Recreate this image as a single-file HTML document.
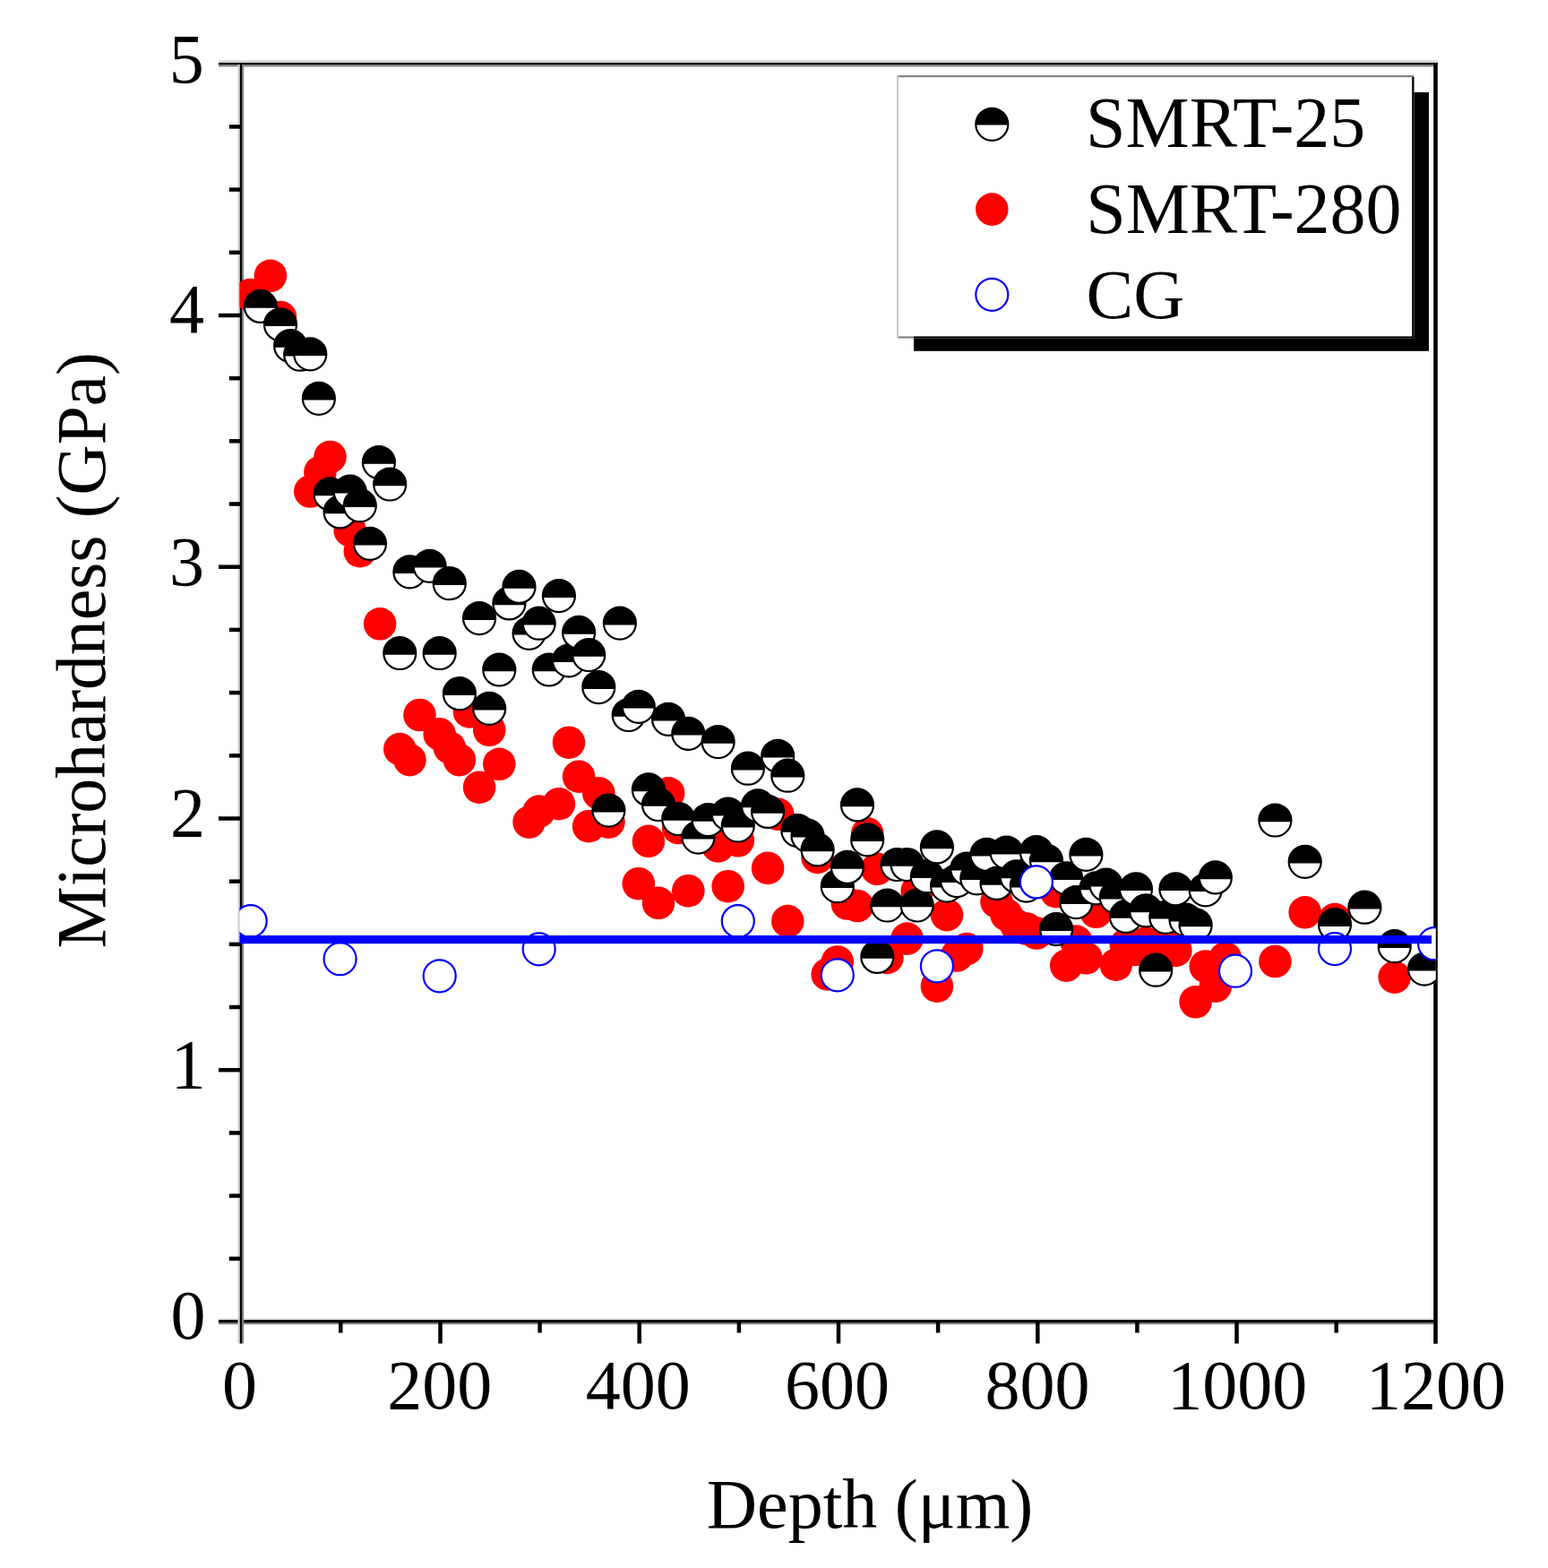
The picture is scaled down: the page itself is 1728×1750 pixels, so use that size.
<!DOCTYPE html>
<html lang="en"><head><meta charset="utf-8"><title>Microhardness vs Depth</title>
<style>html,body{margin:0;padding:0;background:#fff}body{width:1728px;height:1750px;overflow:hidden}svg{display:block}text{font-family:"Liberation Serif","DejaVu Serif",serif;fill:#000}</style></head><body>
<svg width="1728" height="1750" viewBox="0 0 1728 1750">
<rect width="1728" height="1750" fill="#fff"/>
<defs><clipPath id="pc"><rect x="267.4" y="60" width="1335.4" height="1420"/></clipPath></defs>
<g>
<rect x="244" y="67.3" width="1360.8" height="2.8" fill="#d6d6d6"/>
<rect x="244" y="72" width="1356.5" height="2.5" fill="#8a8a8a"/>
<rect x="244" y="70" width="1360.8" height="2.15" fill="#000"/>
<rect x="244" y="1471.1" width="1356.5" height="2.1" fill="#e2e2e2"/>
<rect x="244" y="1475.9" width="1356.5" height="2.1" fill="#787878"/>
<rect x="244" y="1473.1" width="1356.5" height="2.9" fill="#000"/>
<rect x="265.5" y="72" width="2.4" height="1427.5" fill="#d2d2d2"/>
<rect x="270" y="72" width="2.2" height="1427.5" fill="#8a8a8a"/>
<rect x="267.8" y="70" width="2.3" height="1429.5" fill="#000"/>
<rect x="1600.2" y="70" width="4.6" height="1429.7" fill="#000"/>
</g>
<g stroke="#000" stroke-width="4.5">
<line x1="255.8" y1="1404.8" x2="268" y2="1404.8"/>
<line x1="255.8" y1="1334.6" x2="268" y2="1334.6"/>
<line x1="255.8" y1="1264.4" x2="268" y2="1264.4"/>
<line x1="244" y1="1194.2" x2="268" y2="1194.2"/>
<line x1="255.8" y1="1124.0" x2="268" y2="1124.0"/>
<line x1="255.8" y1="1053.9" x2="268" y2="1053.9"/>
<line x1="255.8" y1="983.7" x2="268" y2="983.7"/>
<line x1="244" y1="913.5" x2="268" y2="913.5"/>
<line x1="255.8" y1="843.3" x2="268" y2="843.3"/>
<line x1="255.8" y1="773.1" x2="268" y2="773.1"/>
<line x1="255.8" y1="702.9" x2="268" y2="702.9"/>
<line x1="244" y1="632.7" x2="268" y2="632.7"/>
<line x1="255.8" y1="562.5" x2="268" y2="562.5"/>
<line x1="255.8" y1="492.3" x2="268" y2="492.3"/>
<line x1="255.8" y1="422.2" x2="268" y2="422.2"/>
<line x1="244" y1="352.0" x2="268" y2="352.0"/>
<line x1="255.8" y1="281.8" x2="268" y2="281.8"/>
<line x1="255.8" y1="211.6" x2="268" y2="211.6"/>
<line x1="255.8" y1="141.4" x2="268" y2="141.4"/>
<line x1="380.3" y1="1474" x2="380.3" y2="1487.5"/>
<line x1="491.5" y1="1474" x2="491.5" y2="1499.5"/>
<line x1="602.6" y1="1474" x2="602.6" y2="1487.5"/>
<line x1="713.7" y1="1474" x2="713.7" y2="1499.5"/>
<line x1="824.9" y1="1474" x2="824.9" y2="1487.5"/>
<line x1="936.0" y1="1474" x2="936.0" y2="1499.5"/>
<line x1="1047.1" y1="1474" x2="1047.1" y2="1487.5"/>
<line x1="1158.3" y1="1474" x2="1158.3" y2="1499.5"/>
<line x1="1269.4" y1="1474" x2="1269.4" y2="1487.5"/>
<line x1="1380.5" y1="1474" x2="1380.5" y2="1499.5"/>
<line x1="1491.7" y1="1474" x2="1491.7" y2="1487.5"/>
</g>
<g clip-path="url(#pc)">
<g fill="#f00">
<circle cx="279.7" cy="329.0" r="18.3"/>
<circle cx="301.9" cy="307.8" r="18.3"/>
<circle cx="313.0" cy="354.0" r="18.3"/>
<circle cx="346.3" cy="548.5" r="18.3"/>
<circle cx="357.4" cy="527.0" r="18.3"/>
<circle cx="368.5" cy="510.0" r="18.3"/>
<circle cx="390.7" cy="592.0" r="18.3"/>
<circle cx="401.8" cy="615.2" r="18.3"/>
<circle cx="424.1" cy="696.3" r="18.3"/>
<circle cx="446.3" cy="836.1" r="18.3"/>
<circle cx="457.4" cy="848.1" r="18.3"/>
<circle cx="468.5" cy="798.0" r="18.3"/>
<circle cx="490.7" cy="819.4" r="18.3"/>
<circle cx="501.8" cy="834.3" r="18.3"/>
<circle cx="512.9" cy="848.1" r="18.3"/>
<circle cx="524.0" cy="794.4" r="18.3"/>
<circle cx="535.1" cy="878.7" r="18.3"/>
<circle cx="546.2" cy="814.8" r="18.3"/>
<circle cx="557.3" cy="852.8" r="18.3"/>
<circle cx="590.6" cy="917.6" r="18.3"/>
<circle cx="601.7" cy="905.6" r="18.3"/>
<circle cx="623.9" cy="897.2" r="18.3"/>
<circle cx="635.0" cy="828.7" r="18.3"/>
<circle cx="646.1" cy="866.7" r="18.3"/>
<circle cx="657.2" cy="922.2" r="18.3"/>
<circle cx="668.3" cy="885.2" r="18.3"/>
<circle cx="679.4" cy="917.6" r="18.3"/>
<circle cx="712.8" cy="986.2" r="18.3"/>
<circle cx="723.9" cy="938.9" r="18.3"/>
<circle cx="735.0" cy="1007.8" r="18.3"/>
<circle cx="746.1" cy="885.3" r="18.3"/>
<circle cx="757.2" cy="924.0" r="18.3"/>
<circle cx="768.3" cy="994.2" r="18.3"/>
<circle cx="801.6" cy="944.4" r="18.3"/>
<circle cx="812.7" cy="989.2" r="18.3"/>
<circle cx="823.8" cy="938.3" r="18.3"/>
<circle cx="857.1" cy="968.9" r="18.3"/>
<circle cx="868.2" cy="908.7" r="18.3"/>
<circle cx="879.3" cy="1028.1" r="18.3"/>
<circle cx="912.6" cy="956.9" r="18.3"/>
<circle cx="923.7" cy="1087.4" r="18.3"/>
<circle cx="934.8" cy="1073.5" r="18.3"/>
<circle cx="945.9" cy="1008.5" r="18.3"/>
<circle cx="957.0" cy="1011.0" r="18.3"/>
<circle cx="968.2" cy="930.4" r="18.3"/>
<circle cx="979.3" cy="969.8" r="18.3"/>
<circle cx="990.4" cy="1068.9" r="18.3"/>
<circle cx="1012.6" cy="1047.6" r="18.3"/>
<circle cx="1023.7" cy="994.6" r="18.3"/>
<circle cx="1045.9" cy="1100.7" r="18.3"/>
<circle cx="1057.0" cy="1021.1" r="18.3"/>
<circle cx="1068.1" cy="1066.5" r="18.3"/>
<circle cx="1079.2" cy="1059.1" r="18.3"/>
<circle cx="1112.5" cy="1006.3" r="18.3"/>
<circle cx="1123.6" cy="1021.1" r="18.3"/>
<circle cx="1134.7" cy="1033.0" r="18.3"/>
<circle cx="1145.8" cy="1036.5" r="18.3"/>
<circle cx="1156.9" cy="1041.5" r="18.3"/>
<circle cx="1179.1" cy="995.2" r="18.3"/>
<circle cx="1190.2" cy="1077.6" r="18.3"/>
<circle cx="1201.3" cy="1050.6" r="18.3"/>
<circle cx="1212.4" cy="1069.3" r="18.3"/>
<circle cx="1223.5" cy="1017.8" r="18.3"/>
<circle cx="1245.8" cy="1076.7" r="18.3"/>
<circle cx="1256.9" cy="1054.4" r="18.3"/>
<circle cx="1268.0" cy="1060.0" r="18.3"/>
<circle cx="1279.1" cy="1052.6" r="18.3"/>
<circle cx="1290.2" cy="1056.3" r="18.3"/>
<circle cx="1301.3" cy="1052.6" r="18.3"/>
<circle cx="1312.4" cy="1060.9" r="18.3"/>
<circle cx="1334.6" cy="1118.3" r="18.3"/>
<circle cx="1345.7" cy="1078.5" r="18.3"/>
<circle cx="1356.8" cy="1100.7" r="18.3"/>
<circle cx="1367.9" cy="1069.3" r="18.3"/>
<circle cx="1423.4" cy="1073.0" r="18.3"/>
<circle cx="1456.7" cy="1018.3" r="18.3"/>
<circle cx="1490.0" cy="1026.1" r="18.3"/>
<circle cx="1556.7" cy="1090.6" r="18.3"/>
</g>
<g>
<circle cx="290.8" cy="341.9" r="18" fill="#fff" stroke="#000" stroke-width="2.2"/><path d="M272.8 343.7V341.9A18 18 0 0 1 308.8 341.9V343.7Z" fill="#000"/>
<circle cx="313.0" cy="362.3" r="18" fill="#fff" stroke="#000" stroke-width="2.2"/><path d="M295.0 364.1V362.3A18 18 0 0 1 331.0 362.3V364.1Z" fill="#000"/>
<circle cx="324.1" cy="386.0" r="18" fill="#fff" stroke="#000" stroke-width="2.2"/><path d="M306.1 387.8V386.0A18 18 0 0 1 342.1 386.0V387.8Z" fill="#000"/>
<circle cx="335.2" cy="395.7" r="18" fill="#fff" stroke="#000" stroke-width="2.2"/><path d="M317.2 397.5V395.7A18 18 0 0 1 353.2 395.7V397.5Z" fill="#000"/>
<circle cx="346.3" cy="395.3" r="18" fill="#fff" stroke="#000" stroke-width="2.2"/><path d="M328.3 397.1V395.3A18 18 0 0 1 364.3 395.3V397.1Z" fill="#000"/>
<circle cx="355.9" cy="444.8" r="18" fill="#fff" stroke="#000" stroke-width="2.2"/><path d="M337.9 446.6V444.8A18 18 0 0 1 373.9 444.8V446.6Z" fill="#000"/>
<circle cx="368.5" cy="551.4" r="18" fill="#fff" stroke="#000" stroke-width="2.2"/><path d="M350.5 553.2V551.4A18 18 0 0 1 386.5 551.4V553.2Z" fill="#000"/>
<circle cx="379.6" cy="571.4" r="18" fill="#fff" stroke="#000" stroke-width="2.2"/><path d="M361.6 573.2V571.4A18 18 0 0 1 397.6 571.4V573.2Z" fill="#000"/>
<circle cx="390.7" cy="548.7" r="18" fill="#fff" stroke="#000" stroke-width="2.2"/><path d="M372.7 550.5V548.7A18 18 0 0 1 408.7 548.7V550.5Z" fill="#000"/>
<circle cx="401.8" cy="564.2" r="18" fill="#fff" stroke="#000" stroke-width="2.2"/><path d="M383.8 566.0V564.2A18 18 0 0 1 419.8 564.2V566.0Z" fill="#000"/>
<circle cx="413.0" cy="606.8" r="18" fill="#fff" stroke="#000" stroke-width="2.2"/><path d="M395.0 608.6V606.8A18 18 0 0 1 431.0 606.8V608.6Z" fill="#000"/>
<circle cx="422.9" cy="516.0" r="18" fill="#fff" stroke="#000" stroke-width="2.2"/><path d="M404.9 517.8V516.0A18 18 0 0 1 440.9 516.0V517.8Z" fill="#000"/>
<circle cx="435.2" cy="540.5" r="18" fill="#fff" stroke="#000" stroke-width="2.2"/><path d="M417.2 542.3V540.5A18 18 0 0 1 453.2 540.5V542.3Z" fill="#000"/>
<circle cx="446.3" cy="729.0" r="18" fill="#fff" stroke="#000" stroke-width="2.2"/><path d="M428.3 730.8V729.0A18 18 0 0 1 464.3 729.0V730.8Z" fill="#000"/>
<circle cx="457.4" cy="638.3" r="18" fill="#fff" stroke="#000" stroke-width="2.2"/><path d="M439.4 640.1V638.3A18 18 0 0 1 475.4 638.3V640.1Z" fill="#000"/>
<circle cx="479.6" cy="631.8" r="18" fill="#fff" stroke="#000" stroke-width="2.2"/><path d="M461.6 633.6V631.8A18 18 0 0 1 497.6 631.8V633.6Z" fill="#000"/>
<circle cx="490.7" cy="729.0" r="18" fill="#fff" stroke="#000" stroke-width="2.2"/><path d="M472.7 730.8V729.0A18 18 0 0 1 508.7 729.0V730.8Z" fill="#000"/>
<circle cx="501.8" cy="651.2" r="18" fill="#fff" stroke="#000" stroke-width="2.2"/><path d="M483.8 653.0V651.2A18 18 0 0 1 519.8 651.2V653.0Z" fill="#000"/>
<circle cx="512.9" cy="774.2" r="18" fill="#fff" stroke="#000" stroke-width="2.2"/><path d="M494.9 776.0V774.2A18 18 0 0 1 530.9 774.2V776.0Z" fill="#000"/>
<circle cx="535.1" cy="690.1" r="18" fill="#fff" stroke="#000" stroke-width="2.2"/><path d="M517.1 691.9V690.1A18 18 0 0 1 553.1 690.1V691.9Z" fill="#000"/>
<circle cx="546.2" cy="790.8" r="18" fill="#fff" stroke="#000" stroke-width="2.2"/><path d="M528.2 792.6V790.8A18 18 0 0 1 564.2 790.8V792.6Z" fill="#000"/>
<circle cx="557.3" cy="747.5" r="18" fill="#fff" stroke="#000" stroke-width="2.2"/><path d="M539.3 749.3V747.5A18 18 0 0 1 575.3 747.5V749.3Z" fill="#000"/>
<circle cx="568.4" cy="673.4" r="18" fill="#fff" stroke="#000" stroke-width="2.2"/><path d="M550.4 675.2V673.4A18 18 0 0 1 586.4 673.4V675.2Z" fill="#000"/>
<circle cx="579.5" cy="654.9" r="18" fill="#fff" stroke="#000" stroke-width="2.2"/><path d="M561.5 656.7V654.9A18 18 0 0 1 597.5 654.9V656.7Z" fill="#000"/>
<circle cx="590.6" cy="706.8" r="18" fill="#fff" stroke="#000" stroke-width="2.2"/><path d="M572.6 708.6V706.8A18 18 0 0 1 608.6 706.8V708.6Z" fill="#000"/>
<circle cx="601.7" cy="695.7" r="18" fill="#fff" stroke="#000" stroke-width="2.2"/><path d="M583.7 697.5V695.7A18 18 0 0 1 619.7 695.7V697.5Z" fill="#000"/>
<circle cx="612.8" cy="747.5" r="18" fill="#fff" stroke="#000" stroke-width="2.2"/><path d="M594.8 749.3V747.5A18 18 0 0 1 630.8 747.5V749.3Z" fill="#000"/>
<circle cx="623.9" cy="665.1" r="18" fill="#fff" stroke="#000" stroke-width="2.2"/><path d="M605.9 666.9V665.1A18 18 0 0 1 641.9 665.1V666.9Z" fill="#000"/>
<circle cx="635.0" cy="737.3" r="18" fill="#fff" stroke="#000" stroke-width="2.2"/><path d="M617.0 739.1V737.3A18 18 0 0 1 653.0 737.3V739.1Z" fill="#000"/>
<circle cx="646.1" cy="705.9" r="18" fill="#fff" stroke="#000" stroke-width="2.2"/><path d="M628.1 707.7V705.9A18 18 0 0 1 664.1 705.9V707.7Z" fill="#000"/>
<circle cx="657.2" cy="731.0" r="18" fill="#fff" stroke="#000" stroke-width="2.2"/><path d="M639.2 732.8V731.0A18 18 0 0 1 675.2 731.0V732.8Z" fill="#000"/>
<circle cx="668.3" cy="767.1" r="18" fill="#fff" stroke="#000" stroke-width="2.2"/><path d="M650.3 768.9V767.1A18 18 0 0 1 686.3 767.1V768.9Z" fill="#000"/>
<circle cx="679.4" cy="904.6" r="18" fill="#fff" stroke="#000" stroke-width="2.2"/><path d="M661.4 906.4V904.6A18 18 0 0 1 697.4 904.6V906.4Z" fill="#000"/>
<circle cx="691.9" cy="695.6" r="18" fill="#fff" stroke="#000" stroke-width="2.2"/><path d="M673.9 697.4V695.6A18 18 0 0 1 709.9 695.6V697.4Z" fill="#000"/>
<circle cx="701.7" cy="798.0" r="18" fill="#fff" stroke="#000" stroke-width="2.2"/><path d="M683.7 799.8V798.0A18 18 0 0 1 719.7 798.0V799.8Z" fill="#000"/>
<circle cx="712.8" cy="788.8" r="18" fill="#fff" stroke="#000" stroke-width="2.2"/><path d="M694.8 790.6V788.8A18 18 0 0 1 730.8 788.8V790.6Z" fill="#000"/>
<circle cx="723.9" cy="881.4" r="18" fill="#fff" stroke="#000" stroke-width="2.2"/><path d="M705.9 883.2V881.4A18 18 0 0 1 741.9 881.4V883.2Z" fill="#000"/>
<circle cx="735.0" cy="898.0" r="18" fill="#fff" stroke="#000" stroke-width="2.2"/><path d="M717.0 899.8V898.0A18 18 0 0 1 753.0 898.0V899.8Z" fill="#000"/>
<circle cx="746.1" cy="802.8" r="18" fill="#fff" stroke="#000" stroke-width="2.2"/><path d="M728.1 804.6V802.8A18 18 0 0 1 764.1 802.8V804.6Z" fill="#000"/>
<circle cx="757.2" cy="914.0" r="18" fill="#fff" stroke="#000" stroke-width="2.2"/><path d="M739.2 915.8V914.0A18 18 0 0 1 775.2 914.0V915.8Z" fill="#000"/>
<circle cx="768.3" cy="818.8" r="18" fill="#fff" stroke="#000" stroke-width="2.2"/><path d="M750.3 820.6V818.8A18 18 0 0 1 786.3 818.8V820.6Z" fill="#000"/>
<circle cx="779.4" cy="934.6" r="18" fill="#fff" stroke="#000" stroke-width="2.2"/><path d="M761.4 936.4V934.6A18 18 0 0 1 797.4 934.6V936.4Z" fill="#000"/>
<circle cx="790.5" cy="915.0" r="18" fill="#fff" stroke="#000" stroke-width="2.2"/><path d="M772.5 916.8V915.0A18 18 0 0 1 808.5 915.0V916.8Z" fill="#000"/>
<circle cx="801.6" cy="828.0" r="18" fill="#fff" stroke="#000" stroke-width="2.2"/><path d="M783.6 829.8V828.0A18 18 0 0 1 819.6 828.0V829.8Z" fill="#000"/>
<circle cx="812.7" cy="908.6" r="18" fill="#fff" stroke="#000" stroke-width="2.2"/><path d="M794.7 910.4V908.6A18 18 0 0 1 830.7 908.6V910.4Z" fill="#000"/>
<circle cx="823.8" cy="921.6" r="18" fill="#fff" stroke="#000" stroke-width="2.2"/><path d="M805.8 923.4V921.6A18 18 0 0 1 841.8 921.6V923.4Z" fill="#000"/>
<circle cx="834.9" cy="857.7" r="18" fill="#fff" stroke="#000" stroke-width="2.2"/><path d="M816.9 859.5V857.7A18 18 0 0 1 852.9 857.7V859.5Z" fill="#000"/>
<circle cx="846.0" cy="899.4" r="18" fill="#fff" stroke="#000" stroke-width="2.2"/><path d="M828.0 901.2V899.4A18 18 0 0 1 864.0 899.4V901.2Z" fill="#000"/>
<circle cx="857.1" cy="905.9" r="18" fill="#fff" stroke="#000" stroke-width="2.2"/><path d="M839.1 907.7V905.9A18 18 0 0 1 875.1 905.9V907.7Z" fill="#000"/>
<circle cx="868.2" cy="843.8" r="18" fill="#fff" stroke="#000" stroke-width="2.2"/><path d="M850.2 845.6V843.8A18 18 0 0 1 886.2 843.8V845.6Z" fill="#000"/>
<circle cx="879.3" cy="865.7" r="18" fill="#fff" stroke="#000" stroke-width="2.2"/><path d="M861.3 867.5V865.7A18 18 0 0 1 897.3 865.7V867.5Z" fill="#000"/>
<circle cx="890.4" cy="927.0" r="18" fill="#fff" stroke="#000" stroke-width="2.2"/><path d="M872.4 928.8V927.0A18 18 0 0 1 908.4 927.0V928.8Z" fill="#000"/>
<circle cx="901.5" cy="932.7" r="18" fill="#fff" stroke="#000" stroke-width="2.2"/><path d="M883.5 934.5V932.7A18 18 0 0 1 919.5 932.7V934.5Z" fill="#000"/>
<circle cx="912.6" cy="948.4" r="18" fill="#fff" stroke="#000" stroke-width="2.2"/><path d="M894.6 950.2V948.4A18 18 0 0 1 930.6 948.4V950.2Z" fill="#000"/>
<circle cx="934.8" cy="989.2" r="18" fill="#fff" stroke="#000" stroke-width="2.2"/><path d="M916.8 991.0V989.2A18 18 0 0 1 952.8 989.2V991.0Z" fill="#000"/>
<circle cx="945.9" cy="967.9" r="18" fill="#fff" stroke="#000" stroke-width="2.2"/><path d="M927.9 969.7V967.9A18 18 0 0 1 963.9 967.9V969.7Z" fill="#000"/>
<circle cx="957.0" cy="898.4" r="18" fill="#fff" stroke="#000" stroke-width="2.2"/><path d="M939.0 900.2V898.4A18 18 0 0 1 975.0 898.4V900.2Z" fill="#000"/>
<circle cx="968.2" cy="937.3" r="18" fill="#fff" stroke="#000" stroke-width="2.2"/><path d="M950.2 939.1V937.3A18 18 0 0 1 986.2 937.3V939.1Z" fill="#000"/>
<circle cx="979.3" cy="1067.9" r="18" fill="#fff" stroke="#000" stroke-width="2.2"/><path d="M961.3 1069.7V1067.9A18 18 0 0 1 997.3 1067.9V1069.7Z" fill="#000"/>
<circle cx="990.4" cy="1010.5" r="18" fill="#fff" stroke="#000" stroke-width="2.2"/><path d="M972.4 1012.3V1010.5A18 18 0 0 1 1008.4 1010.5V1012.3Z" fill="#000"/>
<circle cx="1001.5" cy="965.0" r="18" fill="#fff" stroke="#000" stroke-width="2.2"/><path d="M983.5 966.8V965.0A18 18 0 0 1 1019.5 965.0V966.8Z" fill="#000"/>
<circle cx="1012.6" cy="965.0" r="18" fill="#fff" stroke="#000" stroke-width="2.2"/><path d="M994.6 966.8V965.0A18 18 0 0 1 1030.6 965.0V966.8Z" fill="#000"/>
<circle cx="1023.7" cy="1010.5" r="18" fill="#fff" stroke="#000" stroke-width="2.2"/><path d="M1005.7 1012.3V1010.5A18 18 0 0 1 1041.7 1010.5V1012.3Z" fill="#000"/>
<circle cx="1034.8" cy="978.2" r="18" fill="#fff" stroke="#000" stroke-width="2.2"/><path d="M1016.8 980.0V978.2A18 18 0 0 1 1052.8 978.2V980.0Z" fill="#000"/>
<circle cx="1045.9" cy="945.4" r="18" fill="#fff" stroke="#000" stroke-width="2.2"/><path d="M1027.9 947.2V945.4A18 18 0 0 1 1063.9 945.4V947.2Z" fill="#000"/>
<circle cx="1057.0" cy="988.6" r="18" fill="#fff" stroke="#000" stroke-width="2.2"/><path d="M1039.0 990.4V988.6A18 18 0 0 1 1075.0 988.6V990.4Z" fill="#000"/>
<circle cx="1068.1" cy="983.1" r="18" fill="#fff" stroke="#000" stroke-width="2.2"/><path d="M1050.1 984.9V983.1A18 18 0 0 1 1086.1 983.1V984.9Z" fill="#000"/>
<circle cx="1079.2" cy="969.7" r="18" fill="#fff" stroke="#000" stroke-width="2.2"/><path d="M1061.2 971.5V969.7A18 18 0 0 1 1097.2 969.7V971.5Z" fill="#000"/>
<circle cx="1090.3" cy="980.3" r="18" fill="#fff" stroke="#000" stroke-width="2.2"/><path d="M1072.3 982.1V980.3A18 18 0 0 1 1108.3 980.3V982.1Z" fill="#000"/>
<circle cx="1101.4" cy="953.8" r="18" fill="#fff" stroke="#000" stroke-width="2.2"/><path d="M1083.4 955.6V953.8A18 18 0 0 1 1119.4 953.8V955.6Z" fill="#000"/>
<circle cx="1112.5" cy="985.9" r="18" fill="#fff" stroke="#000" stroke-width="2.2"/><path d="M1094.5 987.7V985.9A18 18 0 0 1 1130.5 985.9V987.7Z" fill="#000"/>
<circle cx="1123.6" cy="951.6" r="18" fill="#fff" stroke="#000" stroke-width="2.2"/><path d="M1105.6 953.4V951.6A18 18 0 0 1 1141.6 951.6V953.4Z" fill="#000"/>
<circle cx="1134.7" cy="978.4" r="18" fill="#fff" stroke="#000" stroke-width="2.2"/><path d="M1116.7 980.2V978.4A18 18 0 0 1 1152.7 978.4V980.2Z" fill="#000"/>
<circle cx="1145.8" cy="988.6" r="18" fill="#fff" stroke="#000" stroke-width="2.2"/><path d="M1127.8 990.4V988.6A18 18 0 0 1 1163.8 988.6V990.4Z" fill="#000"/>
<circle cx="1156.9" cy="951.0" r="18" fill="#fff" stroke="#000" stroke-width="2.2"/><path d="M1138.9 952.8V951.0A18 18 0 0 1 1174.9 951.0V952.8Z" fill="#000"/>
<circle cx="1168.0" cy="960.5" r="18" fill="#fff" stroke="#000" stroke-width="2.2"/><path d="M1150.0 962.3V960.5A18 18 0 0 1 1186.0 960.5V962.3Z" fill="#000"/>
<circle cx="1179.1" cy="1037.1" r="18" fill="#fff" stroke="#000" stroke-width="2.2"/><path d="M1161.1 1038.9V1037.1A18 18 0 0 1 1197.1 1037.1V1038.9Z" fill="#000"/>
<circle cx="1190.2" cy="980.3" r="18" fill="#fff" stroke="#000" stroke-width="2.2"/><path d="M1172.2 982.1V980.3A18 18 0 0 1 1208.2 980.3V982.1Z" fill="#000"/>
<circle cx="1201.3" cy="1007.1" r="18" fill="#fff" stroke="#000" stroke-width="2.2"/><path d="M1183.3 1008.9V1007.1A18 18 0 0 1 1219.3 1007.1V1008.9Z" fill="#000"/>
<circle cx="1212.4" cy="953.8" r="18" fill="#fff" stroke="#000" stroke-width="2.2"/><path d="M1194.4 955.6V953.8A18 18 0 0 1 1230.4 953.8V955.6Z" fill="#000"/>
<circle cx="1223.5" cy="991.4" r="18" fill="#fff" stroke="#000" stroke-width="2.2"/><path d="M1205.5 993.2V991.4A18 18 0 0 1 1241.5 991.4V993.2Z" fill="#000"/>
<circle cx="1234.6" cy="987.7" r="18" fill="#fff" stroke="#000" stroke-width="2.2"/><path d="M1216.6 989.5V987.7A18 18 0 0 1 1252.6 987.7V989.5Z" fill="#000"/>
<circle cx="1245.8" cy="1001.6" r="18" fill="#fff" stroke="#000" stroke-width="2.2"/><path d="M1227.8 1003.4V1001.6A18 18 0 0 1 1263.8 1001.6V1003.4Z" fill="#000"/>
<circle cx="1256.9" cy="1022.9" r="18" fill="#fff" stroke="#000" stroke-width="2.2"/><path d="M1238.9 1024.7V1022.9A18 18 0 0 1 1274.9 1022.9V1024.7Z" fill="#000"/>
<circle cx="1268.0" cy="992.3" r="18" fill="#fff" stroke="#000" stroke-width="2.2"/><path d="M1250.0 994.1V992.3A18 18 0 0 1 1286.0 992.3V994.1Z" fill="#000"/>
<circle cx="1279.1" cy="1016.4" r="18" fill="#fff" stroke="#000" stroke-width="2.2"/><path d="M1261.1 1018.2V1016.4A18 18 0 0 1 1297.1 1016.4V1018.2Z" fill="#000"/>
<circle cx="1290.2" cy="1082.7" r="18" fill="#fff" stroke="#000" stroke-width="2.2"/><path d="M1272.2 1084.5V1082.7A18 18 0 0 1 1308.2 1082.7V1084.5Z" fill="#000"/>
<circle cx="1301.3" cy="1023.8" r="18" fill="#fff" stroke="#000" stroke-width="2.2"/><path d="M1283.3 1025.6V1023.8A18 18 0 0 1 1319.3 1023.8V1025.6Z" fill="#000"/>
<circle cx="1312.4" cy="992.3" r="18" fill="#fff" stroke="#000" stroke-width="2.2"/><path d="M1294.4 994.1V992.3A18 18 0 0 1 1330.4 992.3V994.1Z" fill="#000"/>
<circle cx="1323.5" cy="1026.6" r="18" fill="#fff" stroke="#000" stroke-width="2.2"/><path d="M1305.5 1028.4V1026.6A18 18 0 0 1 1341.5 1026.6V1028.4Z" fill="#000"/>
<circle cx="1334.6" cy="1032.4" r="18" fill="#fff" stroke="#000" stroke-width="2.2"/><path d="M1316.6 1034.2V1032.4A18 18 0 0 1 1352.6 1032.4V1034.2Z" fill="#000"/>
<circle cx="1345.7" cy="993.3" r="18" fill="#fff" stroke="#000" stroke-width="2.2"/><path d="M1327.7 995.1V993.3A18 18 0 0 1 1363.7 993.3V995.1Z" fill="#000"/>
<circle cx="1356.8" cy="979.4" r="18" fill="#fff" stroke="#000" stroke-width="2.2"/><path d="M1338.8 981.2V979.4A18 18 0 0 1 1374.8 979.4V981.2Z" fill="#000"/>
<circle cx="1423.4" cy="915.5" r="18" fill="#fff" stroke="#000" stroke-width="2.2"/><path d="M1405.4 917.3V915.5A18 18 0 0 1 1441.4 915.5V917.3Z" fill="#000"/>
<circle cx="1456.7" cy="961.8" r="18" fill="#fff" stroke="#000" stroke-width="2.2"/><path d="M1438.7 963.6V961.8A18 18 0 0 1 1474.7 961.8V963.6Z" fill="#000"/>
<circle cx="1490.0" cy="1032.1" r="18" fill="#fff" stroke="#000" stroke-width="2.2"/><path d="M1472.0 1033.9V1032.1A18 18 0 0 1 1508.0 1032.1V1033.9Z" fill="#000"/>
<circle cx="1523.4" cy="1012.7" r="18" fill="#fff" stroke="#000" stroke-width="2.2"/><path d="M1505.4 1014.5V1012.7A18 18 0 0 1 1541.4 1012.7V1014.5Z" fill="#000"/>
<circle cx="1556.7" cy="1056.2" r="18" fill="#fff" stroke="#000" stroke-width="2.2"/><path d="M1538.7 1058.0V1056.2A18 18 0 0 1 1574.7 1056.2V1058.0Z" fill="#000"/>
<circle cx="1590.0" cy="1081.6" r="18" fill="#fff" stroke="#000" stroke-width="2.2"/><path d="M1572.0 1083.4V1081.6A18 18 0 0 1 1608.0 1081.6V1083.4Z" fill="#000"/>
</g>
</g>
<g clip-path="url(#pc)" fill="#fff" stroke="#00f" stroke-width="2.2">
<circle cx="279.7" cy="1028.1" r="18"/>
<circle cx="379.6" cy="1070.2" r="18"/>
<circle cx="490.7" cy="1089.3" r="18"/>
<circle cx="601.7" cy="1059.3" r="18"/>
<circle cx="823.8" cy="1028.1" r="18"/>
<circle cx="934.8" cy="1088.3" r="18"/>
<circle cx="1045.9" cy="1078.3" r="18"/>
<circle cx="1156.9" cy="984.4" r="18"/>
<circle cx="1379.0" cy="1083.7" r="18"/>
<circle cx="1490.0" cy="1059.1" r="18"/>
<circle cx="1601.1" cy="1053.2" r="18"/>
</g>
<line x1="267.5" y1="1048.6" x2="1598" y2="1048.6" stroke="#00f" stroke-width="9.2"/>
<g font-size="78" text-anchor="end">
<text x="229.5" y="1494.1">0</text>
<text x="229.8" y="1214.1">1</text>
<text x="229.1" y="932.7">2</text>
<text x="227.9" y="652.7">3</text>
<text x="228.1" y="371.4">4</text>
<text x="227.8" y="92.1">5</text>
</g>
<g font-size="78" text-anchor="middle">
<text x="267.5" y="1571.8">0</text>
<text x="490.7" y="1571.8">200</text>
<text x="712.3" y="1571.8">400</text>
<text x="934.6" y="1571.8">600</text>
<text x="1158.1" y="1571.8">800</text>
<text x="1381.2" y="1571.8">1000</text>
<text x="1603.1" y="1571.8">1200</text>
</g>
<text x="971" y="1704.5" font-size="78" text-anchor="middle">Depth (μm)</text>
<text transform="translate(117.1 725.8) rotate(-90)" font-size="78" text-anchor="middle" letter-spacing="-0.22">Microhardness (GPa)</text>
<rect x="1020" y="103" width="575" height="288.8" fill="#000"/>
<rect x="1001" y="84.1" width="577.5" height="293.5" fill="#fff"/>
<rect x="1001" y="84.1" width="577.5" height="2.1" fill="#808080"/>
<rect x="1001" y="84.1" width="2.1" height="293.5" fill="#c8c8c8"/>
<rect x="1003" y="375.4" width="17" height="2.2" fill="#808080"/>
<rect x="1020" y="375.4" width="558.5" height="2.2" fill="#000"/>
<rect x="1576.2" y="86" width="2.3" height="291.6" fill="#000"/>
<circle cx="1107.3" cy="138.8" r="18" fill="#fff" stroke="#000" stroke-width="2.2"/><path d="M1089.3 139.5V138.8A18 18 0 0 1 1125.3 138.8V139.5Z" fill="#000"/>
<circle cx="1107.3" cy="233.6" r="18.3" fill="#f00"/>
<circle cx="1107.3" cy="328.8" r="18" fill="#fff" stroke="#00f" stroke-width="2.2"/>
<text x="1212" y="164.1" font-size="80">SMRT-25</text>
<text x="1212.2" y="259.6" font-size="80">SMRT-280</text>
<text x="1212.6" y="354.6" font-size="79">CG</text>
</svg></body></html>
